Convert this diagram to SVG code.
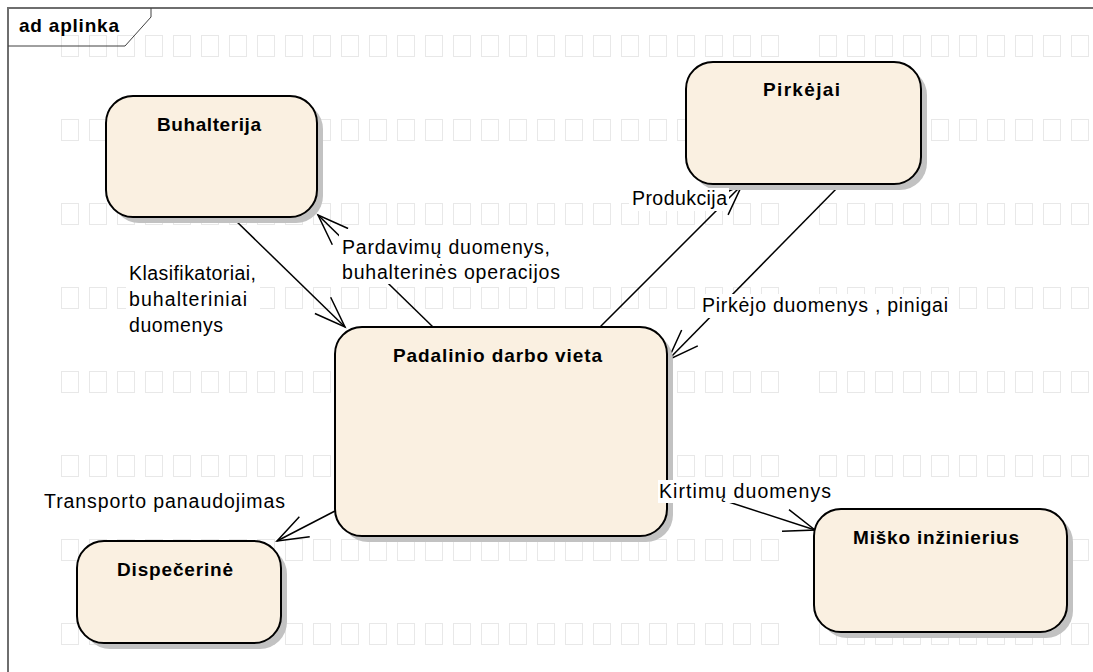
<svg xmlns="http://www.w3.org/2000/svg" width="1093" height="672" viewBox="0 0 1093 672">
<style>
.node{fill:#FAF0E1;stroke:#000;stroke-width:2}
.shadow{fill:#c2c2c2}
.nname{font-family:"Liberation Sans",Arial,sans-serif;font-size:19px;font-weight:bold;fill:#000}
.lbl{font-family:"Liberation Sans",Arial,sans-serif;font-size:19.5px;fill:#000}
.lblbg{fill:#fff}
.conn{fill:none;stroke:#000;stroke-width:1.5;marker-end:url(#arr)}
</style>
<defs>
<pattern id="gridA" patternUnits="userSpaceOnUse" x="61" y="35" width="28" height="84">
<rect x="0.5" y="0.5" width="17" height="21" fill="none" stroke="#e8e8e8" stroke-width="1"/>
</pattern>
<pattern id="gridB" patternUnits="userSpaceOnUse" x="819" y="35" width="28" height="84">
<rect x="0.5" y="0.5" width="17" height="21" fill="none" stroke="#e8e8e8" stroke-width="1"/>
</pattern>
<marker id="arr" markerUnits="userSpaceOnUse" markerWidth="40" markerHeight="30" viewBox="-36 -15 40 30" refX="0" refY="0" orient="auto" overflow="visible">
<path d="M-31,-11.3 L0,0 L-31,11.3" fill="none" stroke="#000" stroke-width="1.5"/>
</marker>
</defs>
<rect width="1093" height="672" fill="#fff"/>
<g id="grid">
<rect x="61" y="35" width="728" height="637" fill="url(#gridA)"/>
<rect x="819" y="35" width="274" height="637" fill="url(#gridB)"/>
</g>
<g id="frame">
<path d="M8,672 V8 H1093" fill="none" stroke="#6e6e6e" stroke-width="2"/>
<path d="M8,46 H125 L151,17 V8" fill="none" stroke="#404040" stroke-width="1"/>
<text x="19" y="32" class="nname" textLength="100" lengthAdjust="spacing">ad aplinka</text>
</g>
<g id="connectors">
<path class="conn" d="M233,218 L345,327"/>
<path class="conn" d="M433,327 L318,215"/>
<path class="conn" d="M600,327 L742,185"/>
<path class="conn" d="M840,185 L668,360"/>
<path class="conn" d="M335,511 L277,541"/>
<path class="conn" d="M667,482 L815,530"/>
</g>
<g id="node-buhalterija">
<rect class="shadow" x="112" y="102" width="211" height="121" rx="27"/>
<rect class="node" x="106" y="96" width="211" height="121" rx="27"/>
<text class="nname" x="157" y="131" textLength="104" lengthAdjust="spacing">Buhalterija</text>
</g>
<g id="node-pirkejai">
<rect class="shadow" x="692" y="68" width="235" height="122" rx="27"/>
<rect class="node" x="686" y="62" width="235" height="122" rx="27"/>
<text class="nname" x="763" y="96" textLength="77" lengthAdjust="spacing">Pirkėjai</text>
</g>
<g id="node-padalinio">
<rect class="shadow" x="341" y="333" width="332" height="209" rx="27"/>
<rect class="node" x="335" y="327" width="332" height="209" rx="27"/>
<text class="nname" x="393" y="362" textLength="209" lengthAdjust="spacing">Padalinio darbo vieta</text>
</g>
<g id="node-dispecerine">
<rect class="shadow" x="83" y="547" width="204" height="102" rx="27"/>
<rect class="node" x="77" y="541" width="204" height="102" rx="27"/>
<text class="nname" x="117" y="576" textLength="116" lengthAdjust="spacing">Dispečerinė</text>
</g>
<g id="node-misko">
<rect class="shadow" x="820" y="515" width="253" height="123" rx="27"/>
<rect class="node" x="814" y="509" width="253" height="123" rx="27"/>
<text class="nname" x="853" y="544" textLength="166" lengthAdjust="spacing">Miško inžinierius</text>
</g>
<g id="labels">
<rect class="lblbg" x="126" y="261" width="134" height="77"/>
<text class="lbl" x="129" y="280" textLength="127" lengthAdjust="spacing">Klasifikatoriai,</text>
<text class="lbl" x="129" y="306" textLength="118" lengthAdjust="spacing">buhalteriniai</text>
<text class="lbl" x="129" y="332" textLength="94" lengthAdjust="spacing">duomenys</text>
<rect class="lblbg" x="339" y="229" width="224" height="55"/>
<text class="lbl" x="342" y="254" textLength="208" lengthAdjust="spacing">Pardavimų duomenys,</text>
<text class="lbl" x="342" y="279" textLength="218" lengthAdjust="spacing">buhalterinės operacijos</text>
<rect class="lblbg" x="629" y="188" width="100" height="23"/>
<text class="lbl" x="632" y="205" textLength="95" lengthAdjust="spacing">Produkcija</text>
<rect class="lblbg" x="700" y="294" width="250" height="24"/>
<text class="lbl" x="702" y="312" textLength="246" lengthAdjust="spacing">Pirkėjo duomenys , pinigai</text>
<rect class="lblbg" x="42" y="489" width="245" height="24"/>
<text class="lbl" x="44" y="508" textLength="241" lengthAdjust="spacing">Transporto panaudojimas</text>
<rect class="lblbg" x="658" y="480" width="175" height="23"/>
<text class="lbl" x="659" y="498" textLength="172" lengthAdjust="spacing">Kirtimų duomenys</text>
</g>
</svg>
